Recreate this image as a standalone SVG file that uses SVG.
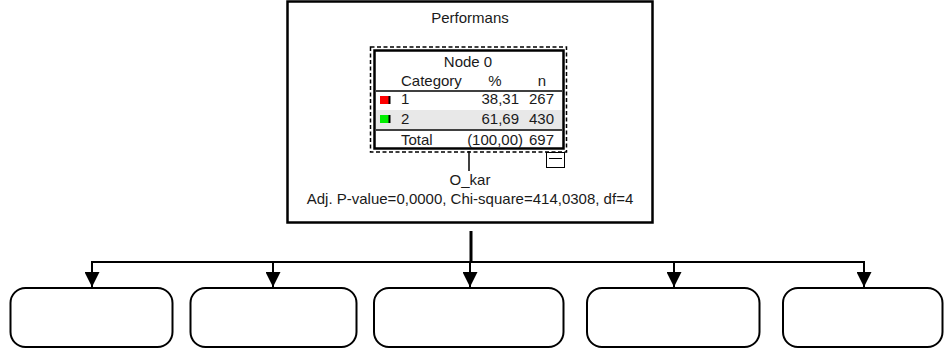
<svg xmlns="http://www.w3.org/2000/svg" width="944" height="354" viewBox="0 0 944 354">
<style>
text{font-family:"Liberation Sans",Arial,sans-serif;font-size:15px;fill:#1a1a1a}
.m{text-anchor:middle}
.e{text-anchor:end}
.child{fill:#fff;stroke:#000;stroke-width:2}
.conn{stroke:#000;stroke-width:2;fill:none}
</style>
<defs>
<marker id="arr" markerWidth="15" markerHeight="15" viewBox="0 0 15 15" refX="15" refY="7.5" orient="auto" markerUnits="userSpaceOnUse">
<path d="M0,0 L15,7.5 L0,15 Z" fill="#000"/>
</marker>
</defs>
<rect width="944" height="354" fill="#fff"/>
<g id="node0">
<rect x="287.5" y="1.5" width="365" height="221" fill="#fff" stroke="#000" stroke-width="2.5"/>
<text class="m" x="470" y="23">Performans</text>
<rect x="370.5" y="47" width="196" height="105" fill="none" stroke="#000" stroke-width="1.5" stroke-dasharray="4,2.5"/>
<rect x="374.5" y="50.5" width="189" height="98" fill="#fff" stroke="#000" stroke-width="2.5"/>
<rect x="376" y="110" width="186" height="19" fill="#e8e8e8"/>
<text class="m" x="468" y="67">Node 0</text>
<text x="401" y="86">Category</text>
<text class="m" x="495" y="86">%</text>
<text class="m" x="542" y="86">n</text>
<line x1="376" y1="91" x2="562" y2="91" stroke="#000" stroke-width="1.5"/>
<rect x="380" y="96" width="10" height="8" fill="#ff0000"/>
<rect x="388.5" y="96" width="2" height="8" fill="#000"/>
<text x="401" y="104">1</text>
<text class="e" x="519" y="104">38,31</text>
<text class="e" x="554" y="104">267</text>
<rect x="380" y="115" width="10" height="8" fill="#00ee00"/>
<rect x="388.5" y="115" width="2" height="8" fill="#000"/>
<text x="401" y="124">2</text>
<text class="e" x="519" y="124">61,69</text>
<text class="e" x="554" y="124">430</text>
<line x1="376" y1="130" x2="562" y2="130" stroke="#000" stroke-width="1.5"/>
<text x="401" y="145">Total</text>
<text class="e" x="523" y="145">(100,00)</text>
<text class="e" x="554" y="145">697</text>
<rect x="546.5" y="152.5" width="18" height="15" fill="#fff" stroke="#000" stroke-width="1"/>
<line x1="549" y1="158.5" x2="562" y2="158.5" stroke="#000" stroke-width="1"/>
<line x1="469" y1="151" x2="469" y2="171" stroke="#000" stroke-width="1.5"/>
<text class="m" x="470" y="185">O_kar</text>
<text class="m" x="470" y="204">Adj. P-value=0,0000, Chi-square=414,0308, df=4</text>
</g>
<g id="connectors">
<line x1="471" y1="231" x2="471" y2="262" stroke="#000" stroke-width="3"/>
<line class="conn" x1="91" y1="262" x2="865" y2="262"/>
<path class="conn" d="M92,261 V287" marker-end="url(#arr)"/>
<path class="conn" d="M273,261 V287" marker-end="url(#arr)"/>
<path class="conn" d="M470,261 V287" marker-end="url(#arr)"/>
<path class="conn" d="M674,261 V287" marker-end="url(#arr)"/>
<path class="conn" d="M864,261 V287" marker-end="url(#arr)"/>
</g>
<g id="child1"><rect class="child" x="10.5" y="288" width="162" height="59" rx="15"/></g>
<g id="child2"><rect class="child" x="190.5" y="288" width="166" height="59" rx="15"/></g>
<g id="child3"><rect class="child" x="374" y="288" width="189.5" height="59" rx="15"/></g>
<g id="child4"><rect class="child" x="587" y="288" width="172.5" height="59" rx="15"/></g>
<g id="child5"><rect class="child" x="783" y="288" width="159.5" height="59" rx="15"/></g>
</svg>
